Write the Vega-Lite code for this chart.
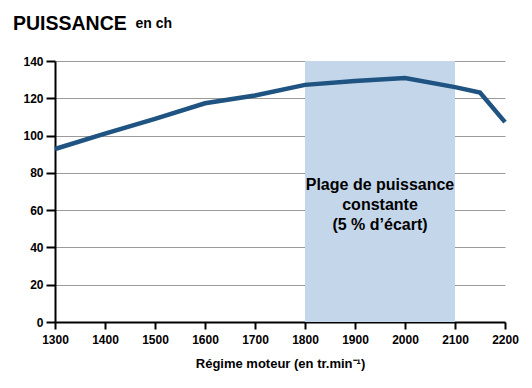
{
  "$schema": "https://vega.github.io/schema/vega-lite/v6.json",
  "width": 450,
  "height": 261,
  "autosize": {"type": "none"},
  "padding": {"left": 55, "top": 61, "right": 27, "bottom": 66},
  "background": "white",
  "title": {
    "text": "PUISSANCE",
    "anchor": "start",
    "frame": "group",
    "orient": "top",
    "offset": 0,
    "dx": -42,
    "dy": 33,
    "baseline": "alphabetic",
    "font": "Liberation Sans",
    "fontSize": 19.5,
    "fontWeight": "bold",
    "color": "black"
  },
  "datasets": {
    "power": [
      {"rpm": 1300, "ch": 92.8},
      {"rpm": 1400, "ch": 101},
      {"rpm": 1500, "ch": 109},
      {"rpm": 1600, "ch": 117.3},
      {"rpm": 1700, "ch": 121.5},
      {"rpm": 1800, "ch": 127.2},
      {"rpm": 1900, "ch": 129.3},
      {"rpm": 2000, "ch": 130.9},
      {"rpm": 2100, "ch": 126},
      {"rpm": 2150, "ch": 123.1},
      {"rpm": 2200, "ch": 107.2}
    ],
    "band": [
      {"start": 1800, "end": 2100, "low": 0, "high": 140, "mid": 1950, "ty": 73.3, "label": ["Plage de puissance", "constante", "(5 % d’écart)"]}
    ]
  },
  "config": {
    "view": {"stroke": null},
    "axis": {
      "labelFont": "Liberation Sans",
      "labelFontWeight": "bold",
      "labelFontSize": 12,
      "labelColor": "black",
      "labelOverlap": false,
      "labelFlush": false,
      "titleFont": "Liberation Sans",
      "titleFontWeight": "bold",
      "titleColor": "black",
      "domainColor": "black",
      "domainWidth": 2,
      "tickColor": "black",
      "tickWidth": 2
    }
  },
  "encoding": {
    "x": {
      "type": "quantitative",
      "scale": {"domain": [1300, 2200], "nice": false, "zero": false},
      "axis": {
        "values": [1300, 1400, 1500, 1600, 1700, 1800, 1900, 2000, 2100, 2200],
        "format": "d",
        "grid": false,
        "tickSize": 7,
        "labelPadding": 5,
        "title": "Régime moteur (en tr.min⁻¹)",
        "titleFontSize": 13,
        "titlePadding": 12
      }
    },
    "y": {
      "type": "quantitative",
      "scale": {"domain": [0, 140], "nice": false},
      "axis": {
        "values": [0, 20, 40, 60, 80, 100, 120, 140],
        "tickCount": 8,
        "grid": true,
        "gridColor": "#9a9a9a",
        "gridWidth": 1,
        "tickSize": 9,
        "labelPadding": 3,
        "title": "en ch",
        "titleAngle": 0,
        "titleAlign": "left",
        "titleBaseline": "alphabetic",
        "titleX": 80,
        "titleY": -34,
        "titleFontSize": 14
      }
    }
  },
  "layer": [
    {
      "data": {"name": "band"},
      "mark": {"type": "rect", "color": "#c4d6ea"},
      "encoding": {
        "x": {"field": "start"},
        "x2": {"field": "end"},
        "y": {"field": "low"},
        "y2": {"field": "high"}
      }
    },
    {
      "data": {"name": "power"},
      "mark": {"type": "line", "color": "#1f5482", "strokeWidth": 4.5, "strokeJoin": "miter"},
      "encoding": {
        "x": {"field": "rpm"},
        "y": {"field": "ch"}
      }
    },
    {
      "data": {"name": "band"},
      "mark": {"type": "text", "font": "Liberation Sans", "fontWeight": "bold", "fontSize": 16, "lineHeight": 20, "align": "center", "baseline": "middle", "color": "black"},
      "encoding": {
        "x": {"field": "mid"},
        "y": {"field": "ty"},
        "text": {"field": "label"}
      }
    }
  ]
}
